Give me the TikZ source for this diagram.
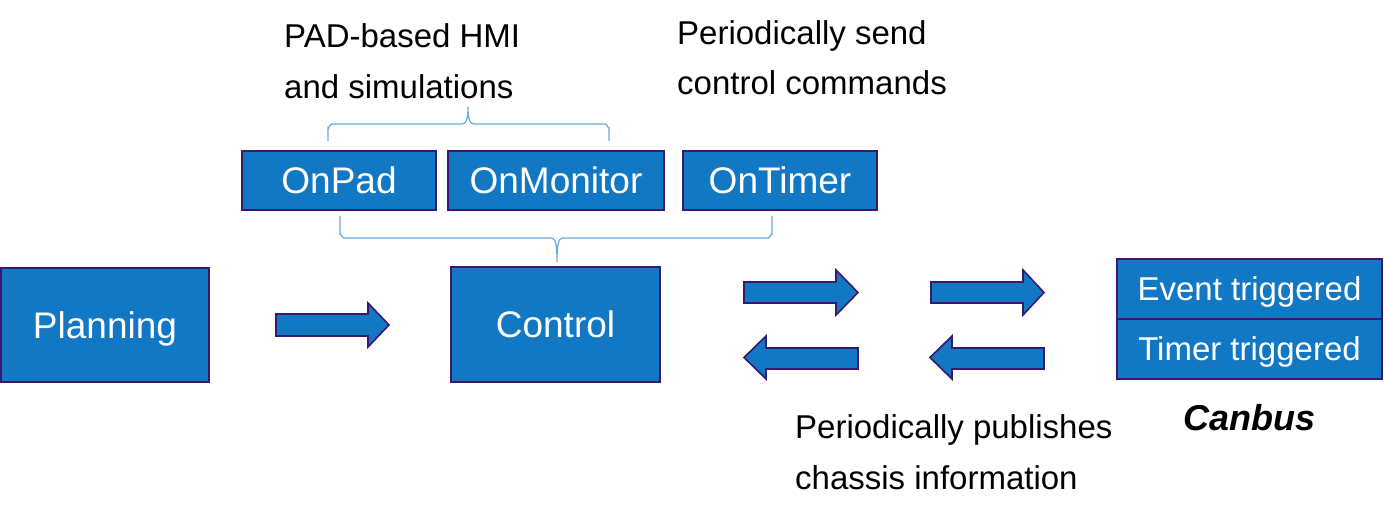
\documentclass[tikz,border=0pt]{standalone}
\usepackage{fontspec}
\setmainfont{Liberation Sans}
\definecolor{boxblue}{RGB}{18,120,196}
\definecolor{boxline}{RGB}{58,24,110}
\definecolor{bracecol}{RGB}{100,170,225}
\begin{document}
\begin{tikzpicture}[x=1pt,y=-1pt,
  box/.style={draw=boxline, fill=boxblue, line width=2pt, text=white, inner sep=0pt,
    font=\fontsize{37}{44}\selectfont, text height=26.5pt, text depth=0pt},
  smallbox/.style={box, font=\fontsize{33}{40}\selectfont, text height=23.6pt},
  lbl/.style={anchor=base west, inner sep=0pt, font=\fontsize{33}{40}\selectfont},
  barrow/.style={draw=boxline, fill=boxblue, line width=1.6pt, line join=miter},
  brace/.style={draw=bracecol, line width=1.2pt}]
\useasboundingbox (0,0) rectangle (1384,518);

% boxes
\node[box, minimum width=208pt, minimum height=114pt] (planning) at (105,325) {Planning};
\node[box, minimum width=209pt, minimum height=115pt] (control) at (555.5,324.5) {Control};
\node[box, minimum width=194pt, minimum height=59pt] (onpad) at (339,180.5) {OnPad};
\node[box, minimum width=216pt, minimum height=59pt] (onmonitor) at (556,180.5) {OnMonitor};
\node[box, minimum width=194pt, minimum height=59pt] (ontimer) at (780,180.5) {OnTimer};
\node[smallbox, minimum width=265pt, minimum height=60pt] (event) at (1249.5,289) {Event triggered};
\node[smallbox, minimum width=265pt, minimum height=60pt] (timer) at (1249.5,349) {Timer triggered};

% labels
\node[lbl] (pad1) at (284,48) {PAD-based HMI};
\node[lbl] (pad2) at (284,98.5) {and simulations};
\node[lbl] (per1) at (677,45) {Periodically send};
\node[lbl] (per2) at (677,95) {control commands};
\node[lbl] (pub1) at (795,438) {Periodically publishes};
\node[lbl] (pub2) at (795,489) {chassis information};
\node[anchor=base, inner sep=0pt, font=\fontsize{36}{42}\selectfont\bfseries\itshape] (canbus) at (1249.5,430) {Canbus};

% upper brace
\coordinate (ub1) at (328,141);
\coordinate (ub2) at (609,141);
\coordinate (utip) at (468,107);
\draw[brace] (ub1) -- (328,128) to[out=-90,in=180] (332,124) -- (462,124)
  .. controls (466,124) and (468,120) .. (utip)
  .. controls (468,120) and (470,124) .. (474,124) -- (605,124)
  to[out=0,in=-90] (609,128) -- (ub2);

% lower brace
\coordinate (lb1) at (340,216);
\coordinate (lb2) at (772,216);
\coordinate (ltip) at (557,262);
\draw[brace] (lb1) -- (340,234) to[out=90,in=180] (344,238) -- (551,238)
  .. controls (555,238) and (557,242) .. (ltip)
  .. controls (557,242) and (559,238) .. (563,238) -- (768,238)
  to[out=0,in=90] (772,234) -- (lb2);

% block arrows
\draw[barrow] (276,314) -- (368,314) -- (368,303) -- (389,325) -- (368,347) -- (368,336) -- (276,336) -- cycle;
\draw[barrow] (744,282) -- (836,282) -- (836,270) -- (858,292.5) -- (836,315) -- (836,303) -- (744,303) -- cycle;
\draw[barrow] (931,282) -- (1023,282) -- (1023,270) -- (1044,292.5) -- (1023,315) -- (1023,303) -- (931,303) -- cycle;
\draw[barrow] (858,348) -- (766,348) -- (766,336) -- (744,357.5) -- (766,379) -- (766,369) -- (858,369) -- cycle;
\draw[barrow] (1044,348) -- (952,348) -- (952,336) -- (930,357.5) -- (952,379) -- (952,369) -- (1044,369) -- cycle;
\end{tikzpicture}
\end{document}
